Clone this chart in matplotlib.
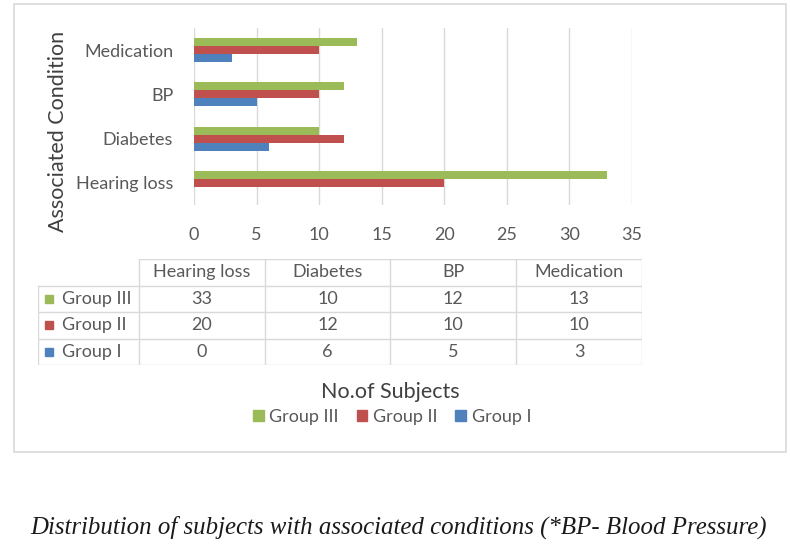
import matplotlib
matplotlib.use("Agg")
import matplotlib.pyplot as plt
import numpy as np
from matplotlib.patches import Rectangle, Patch

# data
conditions = ["Hearing loss", "Diabetes", "BP", "Medication"]
group_names = ["Group III", "Group II", "Group I"]
group3 = [33, 10, 12, 13]
group2 = [20, 12, 10, 10]
group1 = [0, 6, 5, 3]
xticks = [0, 5, 10, 15, 20, 25, 30, 35]

colors = {"Group III": "#9BBB59", "Group II": "#C0504D", "Group I": "#4F81BD"}
values = {"Group III": group3, "Group II": group2, "Group I": group1}

plt.rcParams["font.family"] = ["Lato", "DejaVu Sans"]
TXT = "#595959"
GRID = "#D9D9D9"
FS = 13

W, H = 790, 549
fig = plt.figure(figsize=(W / 100, H / 100), dpi=100)


def fbox(x0, y0, x1, y1):
    # pixel box (top-left origin) -> figure fraction [l, b, w, h]
    return [x0 / W, 1 - y1 / H, (x1 - x0) / W, (y1 - y0) / H]


# outer chart frame
l, b, w, h = fbox(14, 4, 786, 452)
fig.patches.append(Rectangle((l, b), w, h, transform=fig.transFigure,
                             fill=False, edgecolor=GRID, lw=1.2))

# bar chart
ax = fig.add_axes(fbox(194, 28, 632, 205))
y = np.arange(len(conditions))
bh = 0.18
offsets = {"Group III": bh, "Group II": 0.0, "Group I": -bh}
for g in group_names:
    ax.barh(y + offsets[g], values[g], height=bh, color=colors[g], zorder=3)

ax.set_xlim(0, 35)
ax.set_ylim(-0.5, len(conditions) - 0.5)
ax.set_xticks(xticks)
ax.set_yticks(y)
ax.set_yticklabels(conditions)
ax.grid(axis="x", color=GRID, lw=1, zorder=0)
for s in ax.spines.values():
    s.set_visible(False)
ax.tick_params(axis="both", length=0, colors=TXT, labelsize=FS)
ax.tick_params(axis="x", pad=16)
ax.tick_params(axis="y", pad=15)

fig.text(58 / W, 1 - 131 / H, "Associated Condition", rotation=90,
         ha="center", va="center", fontsize=15.5, color="#404040")

# data table
ta = fig.add_axes(fbox(38, 259, 642, 365))
first_w = 0.8
ncol = len(conditions)
nrow = len(group_names)
ta.set_xlim(0, first_w + ncol)
ta.set_ylim(0, nrow + 1)
ta.axis("off")

# horizontal lines
ta.plot([first_w, first_w + ncol], [nrow + 1, nrow + 1], color=GRID, lw=1)
for r in range(nrow + 1):
    ta.plot([0, first_w + ncol], [r, r], color=GRID, lw=1)
# vertical lines
ta.plot([0, 0], [0, nrow], color=GRID, lw=1)
for c in range(ncol + 1):
    ta.plot([first_w + c, first_w + c], [0, nrow + 1], color=GRID, lw=1)

for c, name in enumerate(conditions):
    ta.text(first_w + c + 0.5, nrow + 0.5, name, ha="center", va="center",
            fontsize=FS, color=TXT)
for r, g in enumerate(group_names):
    yc = nrow - r - 0.5
    ta.add_patch(Rectangle((0.056, yc - 0.16), 0.064, 0.32, color=colors[g]))
    ta.text(0.19, yc, g, ha="left", va="center", fontsize=FS, color=TXT)
    for c, v in enumerate(values[g]):
        ta.text(first_w + c + 0.5, yc, str(v), ha="center", va="center",
                fontsize=FS, color=TXT)

fig.text(390 / W, 1 - 392 / H, "No.of Subjects", ha="center", va="center",
         fontsize=15.5, color="#404040")

handles = [Patch(color=colors[g], label=g) for g in group_names]
fig.legend(handles=handles, loc="center", bbox_to_anchor=(392 / W, 1 - 417 / H),
           ncol=3, frameon=False, fontsize=FS, handlelength=0.6,
           handleheight=0.6, handletextpad=0.3, columnspacing=1.0,
           labelcolor=TXT)

fig.text(399 / W, 1 - 527 / H,
         "Distribution of subjects with associated conditions (*BP- Blood Pressure)",
         ha="center", va="center", fontsize=17.9, style="italic",
         family="Liberation Serif", color="#1a1a1a")

fig.savefig("out.png", dpi=100)
